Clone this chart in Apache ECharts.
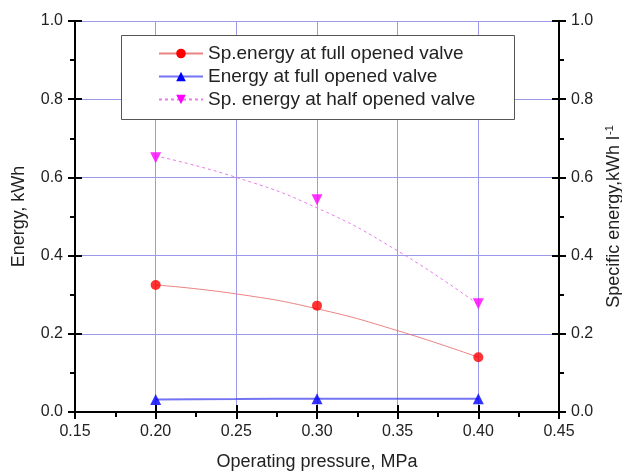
<!DOCTYPE html>
<html>
<head>
<meta charset="utf-8">
<script src="https://cdn.jsdelivr.net/npm/echarts@6/dist/echarts.min.js"></script>
<style>
  html, body { margin: 0; padding: 0; background: #fff; }
  #chart { width: 622px; height: 471px; }
</style>
</head>
<body>
<div id="chart"></div>
<script>
// measured points
const pressure = [0.20, 0.30, 0.40];
const spEnergyFull = [0.325, 0.272, 0.140];
const energyFull = [0.032, 0.034, 0.034];
const spEnergyHalf = [0.650, 0.543, 0.277];

// fitted curves as drawn in the picture
const fitPressure = [0.20, 0.25, 0.30, 0.35, 0.40];
const fitSpFull = [0.325, 0.302, 0.264, 0.208, 0.140];
const fitEnergyFull = [0.032, 0.033, 0.034, 0.034, 0.034];
const fitSpHalf = [0.655, 0.600, 0.522, 0.412, 0.275];

const names = [
  "Sp.energy at full opened valve",
  "Energy at full opened valve",
  "Sp. energy at half opened valve"
];

const font = "'Liberation Sans', Arial, sans-serif";
const gridColor = "#9a9ae8";
const nameStyle = { fontSize: 18, color: "#222", fontFamily: font };

function pairs(xs, ys) {
  return xs.map((x, i) => [x, ys[i]]);
}

const chart = echarts.init(document.getElementById("chart"));

const xBase = { type: "value", min: 0.15, max: 0.45, interval: 0.05 };
const yBase = { type: "value", min: 0, max: 1.0, interval: 0.2 };
const tick = { length: 7, lineStyle: { color: "#000", width: 2 } };

chart.setOption({
  animation: false,
  textStyle: { fontFamily: font },
  grid: { left: 75, right: 63, top: 21, bottom: 59, outerBoundsMode: "none", containLabel: false },
  // legend frame
  graphic: [
    {
      type: "rect",
      z: 10,
      shape: { x: 121.5, y: 35.5, width: 393, height: 84 },
      style: { fill: "#fff", stroke: "#555", lineWidth: 1 }
    }
  ],
  legend: {
    data: names,
    orient: "vertical",
    left: 158,
    top: 44,
    padding: 0,
    itemGap: 4,
    itemWidth: 44,
    itemHeight: 12,
    z: 11,
    textStyle: { fontSize: 19, color: "#222", fontFamily: font }
  },
  xAxis: [
    {
      ...xBase,
      position: "bottom",
      name: "Operating pressure, MPa",
      nameLocation: "middle",
      nameGap: 41,
      nameTextStyle: nameStyle,
      axisLine: { lineStyle: { color: "#000", width: 2 } },
      axisTick: { inside: false, ...tick },
      minorTick: { show: true, splitNumber: 2, length: 5, lineStyle: { color: "#000", width: 2 } },
      axisLabel: { fontSize: 16, color: "#222", margin: 12, formatter: v => v.toFixed(2) },
      splitLine: { show: true, lineStyle: { color: gridColor, width: 1 } }
    },
    {
      ...xBase,
      position: "bottom",
      axisLine: { show: false },
      axisTick: { inside: true, ...tick },
      axisLabel: { show: false },
      splitLine: { show: false }
    },
    {
      ...xBase,
      position: "top",
      axisLine: { lineStyle: { color: "#000", width: 2 } },
      axisTick: { show: false },
      axisLabel: { show: false },
      splitLine: { show: false }
    }
  ],
  yAxis: [
    {
      ...yBase,
      position: "left",
      name: "Energy, kWh",
      nameLocation: "middle",
      nameGap: 47,
      nameTextStyle: nameStyle,
      axisLine: { lineStyle: { color: "#000", width: 2 } },
      axisTick: { inside: false, ...tick },
      minorTick: { show: true, splitNumber: 2, length: 5, lineStyle: { color: "#000", width: 2 } },
      axisLabel: { fontSize: 16, color: "#222", margin: 12, formatter: v => v.toFixed(1) },
      splitLine: { show: true, lineStyle: { color: gridColor, width: 1 } }
    },
    {
      ...yBase,
      position: "left",
      axisLine: { show: false },
      axisTick: { inside: true, ...tick },
      axisLabel: { show: false },
      splitLine: { show: false }
    },
    {
      ...yBase,
      position: "right",
      name: "{a|Specific energy,kWh l}{s|-1}",
      nameLocation: "middle",
      nameGap: 45,
      nameTextStyle: {
        rich: {
          a: nameStyle,
          s: { fontSize: 11, color: "#222", fontFamily: font, verticalAlign: "top", padding: [0, 0, 9, 1] }
        }
      },
      axisLine: { lineStyle: { color: "#000", width: 2 } },
      axisTick: { inside: false, ...tick },
      minorTick: { show: true, splitNumber: 2, length: 5, lineStyle: { color: "#000", width: 2 } },
      axisLabel: { fontSize: 16, color: "#222", margin: 12, formatter: v => v.toFixed(1) },
      splitLine: { show: false }
    },
    {
      ...yBase,
      position: "right",
      axisLine: { show: false },
      axisTick: { inside: true, ...tick },
      axisLabel: { show: false },
      splitLine: { show: false }
    }
  ],
  series: [
    // fitted lines first so the legend uses their line style
    {
      name: names[0],
      type: "line",
      smooth: true,
      showSymbol: false,
      symbol: "circle",
      data: pairs(fitPressure, fitSpFull),
      itemStyle: { color: "#ff0000" },
      lineStyle: { color: "rgba(230, 100, 100, 0.8)", width: 1 },
      z: 3
    },
    {
      name: names[1],
      type: "line",
      smooth: true,
      showSymbol: false,
      symbol: "triangle",
      data: pairs(fitPressure, fitEnergyFull),
      itemStyle: { color: "#0000ff" },
      lineStyle: { color: "rgba(80, 80, 240, 0.8)", width: 2 },
      z: 3
    },
    {
      name: names[2],
      type: "line",
      smooth: true,
      showSymbol: false,
      symbol: "triangle",
      symbolRotate: 180,
      data: pairs(fitPressure, fitSpHalf),
      itemStyle: { color: "#ff00ff" },
      lineStyle: { color: "rgba(230, 110, 230, 0.9)", width: 1, type: [3, 3] },
      z: 3
    },
    {
      name: names[0],
      type: "scatter",
      symbol: "circle",
      symbolSize: 10,
      data: pairs(pressure, spEnergyFull),
      itemStyle: { color: "#ff0000" },
      z: 4
    },
    {
      name: names[1],
      type: "scatter",
      symbol: "triangle",
      symbolSize: 11,
      data: pairs(pressure, energyFull),
      itemStyle: { color: "#0000ff" },
      z: 4
    },
    {
      name: names[2],
      type: "scatter",
      symbol: "triangle",
      symbolRotate: 180,
      symbolSize: 11,
      data: pairs(pressure, spEnergyHalf),
      itemStyle: { color: "#ff00ff" },
      z: 4
    }
  ]
});
</script>
</body>
</html>
